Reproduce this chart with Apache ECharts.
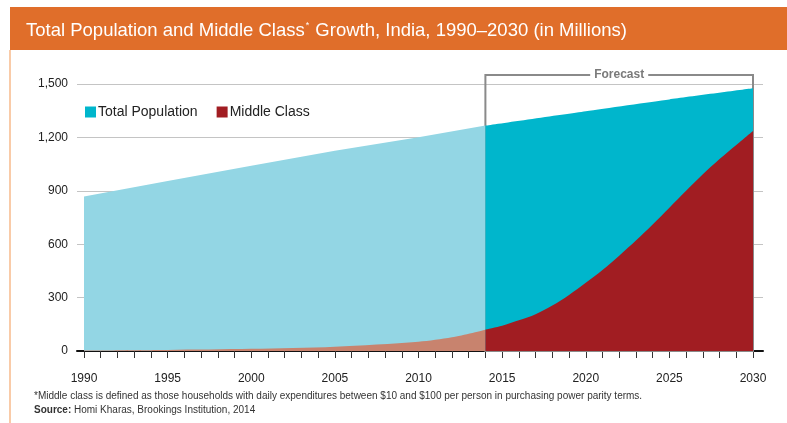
<!DOCTYPE html>
<html lang="en">
<head>
<meta charset="UTF-8">
<title>Total Population and Middle Class Growth, India</title>
<script src="https://cdn.jsdelivr.net/npm/echarts@6/dist/echarts.min.js"></script>
<style>
    body, html { margin: 0; padding: 0; background: #fff; }
    #chart { width: 787px; height: 423px; }
</style>
</head>
<body>
<div id="chart"></div>
<script>
    // values (millions)
    const popHistYears = [1990, 1995, 2000, 2005, 2010, 2014];
    const popHist = [867, 955, 1040, 1125, 1200, 1266];
    const popFcYears = [2014, 2020, 2025, 2030];
    const popFc = [1266, 1347, 1413, 1475];

    const midHistYears = [1990, 1995, 2000, 2005, 2010, 2012, 2014];
    const midHist = [3, 6, 12, 24, 52, 77, 120];
    const midFcYears = [2014, 2015, 2016, 2017, 2018, 2019, 2020, 2021, 2022,
                        2023, 2024, 2025, 2026, 2027, 2028, 2029, 2030];
    const midFc = [120, 142, 172, 207, 255, 315, 383, 455, 535,
                   620, 710, 805, 900, 992, 1078, 1157, 1236];

    const forecastStart = 2014, forecastEnd = 2030;

    const FONT = "'Liberation Sans', Arial, sans-serif";
    const C_POP_HIST = '#93D6E4', C_POP_FC = '#00B6CC';
    const C_MID_HIST = '#C8836E', C_MID_FC = '#A11D22';

    function zip(xs, ys) { return xs.map((x, i) => [x, ys[i]]); }

    function areaSeries(name, xs, ys, color, smooth) {
        return {
            name: name,
            type: 'line',
            xAxisIndex: 0,
            yAxisIndex: 0,
            data: zip(xs, ys),
            smooth: smooth,
            symbol: 'none',
            lineStyle: { width: 0 },
            itemStyle: { color: color },
            areaStyle: { color: color, opacity: 1 }
        };
    }

    var chart = echarts.init(document.getElementById('chart'), null, { renderer: 'canvas' });

    var option = {
        animation: false,
        textStyle: { fontFamily: FONT },
        graphic: [
            { type: 'rect', shape: { x: 10, y: 7, width: 777, height: 43 }, style: { fill: '#E06E2A' }, z: 0 },
            { type: 'rect', shape: { x: 9, y: 50, width: 2, height: 373 }, style: { fill: '#F9CBA8' }, z: 0 }
        ],
        title: [
            {
                text: '{t|Total Population and Middle Class}{s|*}{t| Growth, India, 1990\u20132030 (in Millions)}',
                left: 21, top: 16,
                textStyle: {
                    rich: {
                        t: { fontFamily: FONT, fontSize: 18.5, fontWeight: 'normal', color: '#fff' },
                        s: { fontFamily: FONT, fontSize: 9, fontWeight: 'normal', color: '#fff', verticalAlign: 'top', padding: [0, 1, 9, 1] }
                    }
                }
            },
            {
                text: '*Middle class is defined as those households with daily expenditures between $10 and $100 per person in purchasing power parity terms.',
                left: 29, top: 386,
                textStyle: { fontFamily: FONT, fontSize: 10, fontWeight: 'normal', color: '#333' }
            },
            {
                text: '{b|Source:}{n| Homi Kharas, Brookings Institution, 2014}',
                left: 29, top: 400,
                textStyle: {
                    rich: {
                        b: { fontFamily: FONT, fontSize: 10, fontWeight: 'bold', color: '#333' },
                        n: { fontFamily: FONT, fontSize: 10, fontWeight: 'normal', color: '#333' }
                    }
                }
            }
        ],
        legend: {
            left: 80, top: 100,
            icon: 'rect',
            itemWidth: 11, itemHeight: 11,
            itemGap: 19,
            textStyle: { fontFamily: FONT, fontSize: 14, color: '#222', padding: [0, 0, 0, -3] },
            data: [
                { name: 'Total Population', itemStyle: { color: C_POP_FC } },
                { name: 'Middle Class', itemStyle: { color: C_MID_FC } }
            ]
        },
        grid: [
            { left: 84, right: 34, top: 75, bottom: 72 },
            { left: 77, right: 24, top: 84, bottom: 72 }
        ],
        xAxis: [
            {
                gridIndex: 0, type: 'value', min: 1990, max: 2030, interval: 5,
                axisLine: { show: false },
                axisTick: { show: true, length: 7, lineStyle: { color: '#333', width: 1 } },
                minorTick: { show: true, splitNumber: 5, length: 7, lineStyle: { color: '#333', width: 1 } },
                splitLine: { show: false },
                axisLabel: { margin: 22, fontSize: 12, color: '#222', formatter: v => String(v) }
            },
            {
                gridIndex: 1, type: 'value', min: 0, max: 1,
                axisLine: { show: true, lineStyle: { color: '#111', width: 2 } },
                axisTick: { show: false }, axisLabel: { show: false }, splitLine: { show: false }
            }
        ],
        yAxis: [
            // data axis: grid top sits 50 units above the 1,500 gridline
            { gridIndex: 0, type: 'value', min: 0, max: 1550, show: false },
            {
                gridIndex: 1, type: 'value', min: 0, max: 1500, interval: 300,
                axisLine: { show: false }, axisTick: { show: false },
                splitLine: { show: true, lineStyle: { color: '#C4C4C4', width: 1 } },
                axisLabel: { margin: 9, fontSize: 12, color: '#222' }
            }
        ],
        series: [
            areaSeries('Total Population', popHistYears, popHist, C_POP_HIST, false),
            areaSeries('Total Population', popFcYears, popFc, C_POP_FC, 0.2),
            areaSeries('Middle Class', midHistYears, midHist, C_MID_HIST, 0.3),
            areaSeries('Middle Class', midFcYears, midFc, C_MID_FC, 0.3),
            {
                name: 'forecast',
                type: 'line',
                xAxisIndex: 0, yAxisIndex: 0,
                data: [[forecastStart, 0]],
                symbol: 'none',
                lineStyle: { opacity: 0 },
                clip: false,
                z: 5,
                silent: true,
                markArea: {
                    silent: true,
                    itemStyle: { color: 'rgba(0,0,0,0)', borderColor: '#8A8A8A', borderWidth: 2 },
                    label: {
                        show: true, position: 'top', distance: -7,
                        color: '#7A7A7A', fontFamily: FONT, fontSize: 12, fontWeight: 'bold',
                        backgroundColor: '#fff', padding: [0, 4]
                    },
                    data: [[
                        { name: 'Forecast', coord: [forecastStart, 0] },
                        { coord: [forecastEnd, 1550] }
                    ]]
                }
            }
        ]
    };

    chart.setOption(option);
</script>
</body>
</html>
